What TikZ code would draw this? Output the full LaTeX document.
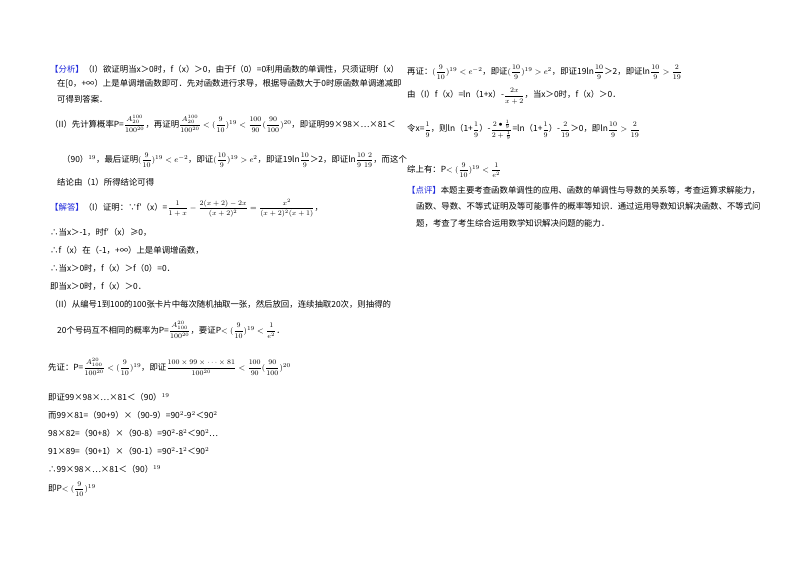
\documentclass[tikz,border=0pt]{standalone}
\usepackage{amsmath}
\usepackage{fontspec}
\setmainfont{Noto Sans CJK SC}
\definecolor{tagblue}{RGB}{30,40,220}
\newcommand{\tg}[1]{\textcolor{tagblue}{【#1】}}
\newcommand{\fr}[2]{\mbox{\fontsize{7}{8}\selectfont$\dfrac{#1}{#2}$}}
\begin{document}
\begin{tikzpicture}[x=1pt,y=-1pt,every node/.style={anchor=west,inner sep=0pt,font=\fontsize{8.4}{10}\selectfont}]
\useasboundingbox (0,0) rectangle (800,565);
\fill[white] (0,0) rectangle (800,565);
% left column
\node (l1) at (50,69) {\tg{分析}（I）欲证明当x＞0时，f（x）＞0，由于f（0）=0利用函数的单调性，只须证明f（x）};
\node (l2) at (57,84) {在[0，+∞）上是单调增函数即可．先对函数进行求导，根据导函数大于0时原函数单调递减即};
\node (l3) at (57,99) {可得到答案．};
\node (l4) at (50,124) {（II）先计算概率P=$\fr{A_{20}^{100}}{100^{20}}$，再证明$\fr{A_{20}^{100}}{100^{20}}<(\fr{9}{10})^{19}<\fr{100}{90}(\fr{90}{100})^{20}$，即证明99×98×…×81＜};
\node (l5) at (62,160) {（90）$^{19}$，最后证明$(\fr{9}{10})^{19}<e^{-2}$，即证$(\fr{10}{9})^{19}>e^{2}$，即证19ln$\fr{10}{9}$＞2，即证ln$\fr{10\ \ 2}{9\ \ 19}$，而这个};
\node (l6) at (57,182) {结论由（1）所得结论可得};
\node (l7) at (50,208) {\tg{解答}（I）证明：∵f′（x）=$\fr{1}{1+x}-\fr{2(x+2)-2x}{(x+2)^2}=\fr{x^2}{(x+2)^2(x+1)}$，};
\node (l8) at (50,232) {∴当x＞-1，时f′（x）≥0，};
\node (l9) at (50,250) {∴f（x）在（-1，+∞）上是单调增函数，};
\node (l10) at (50,268) {∴当x＞0时，f（x）＞f（0）=0．};
\node (l11) at (50,286) {即当x＞0时，f（x）＞0．};
\node (l12) at (50,304) {（II）从编号1到100的100张卡片中每次随机抽取一张，然后放回，连续抽取20次，则抽得的};
\node (l13) at (57,330) {20个号码互不相同的概率为P=$\fr{A_{100}^{20}}{100^{20}}$，要证P$<(\fr{9}{10})^{19}<\fr{1}{e^2}$．};
\node (l14) at (48,367) {先证：P=$\fr{A_{100}^{20}}{100^{20}}<(\fr{9}{10})^{19}$，即证$\fr{100\times99\times\cdots\times81}{100^{20}}<\fr{100}{90}(\fr{90}{100})^{20}$};
\node (l15) at (48,397) {即证99×98×…×81＜（90）$^{19}$};
\node (l16) at (48,415) {而99×81=（90+9）×（90-9）=90$^2$-9$^2$＜90$^2$};
\node (l17) at (48,433) {98×82=（90+8）×（90-8）=90$^2$-8$^2$＜90$^2$…};
\node (l18) at (48,451) {91×89=（90+1）×（90-1）=90$^2$-1$^2$＜90$^2$};
\node (l19) at (48,469) {∴99×98×…×81＜（90）$^{19}$};
\node (l20) at (48,489) {即P$<(\fr{9}{10})^{19}$};
% right column
\node (r1) at (407,72) {再证：$(\fr{9}{10})^{19}<e^{-2}$，即证$(\fr{10}{9})^{19}>e^{2}$，即证19ln$\fr{10}{9}$＞2，即证ln$\fr{10}{9}>\fr{2}{19}$};
\node (r2) at (407,96) {由（I）f（x）=ln（1+x）-$\fr{2x}{x+2}$，当x＞0时，f（x）＞0．};
\node (r3) at (407,130) {令x=$\fr{1}{9}$，则ln（1+$\fr{1}{9}$）-$\fr{2\bullet\frac{1}{9}}{2+\frac{1}{9}}$=ln（1+$\fr{1}{9}$）-$\fr{2}{19}$＞0，即ln$\fr{10}{9}>\fr{2}{19}$};
\node (r4) at (407,170) {综上有：P$<(\fr{9}{10})^{19}<\fr{1}{e^2}$};
\node (r5) at (407,190) {\tg{点评}本题主要考查函数单调性的应用、函数的单调性与导数的关系等，考查运算求解能力，};
\node (r6) at (416,206) {函数、导数、不等式证明及等可能事件的概率等知识．通过运用导数知识解决函数、不等式问};
\node (r7) at (416,223) {题，考查了考生综合运用数学知识解决问题的能力．};
\end{tikzpicture}
\end{document}
